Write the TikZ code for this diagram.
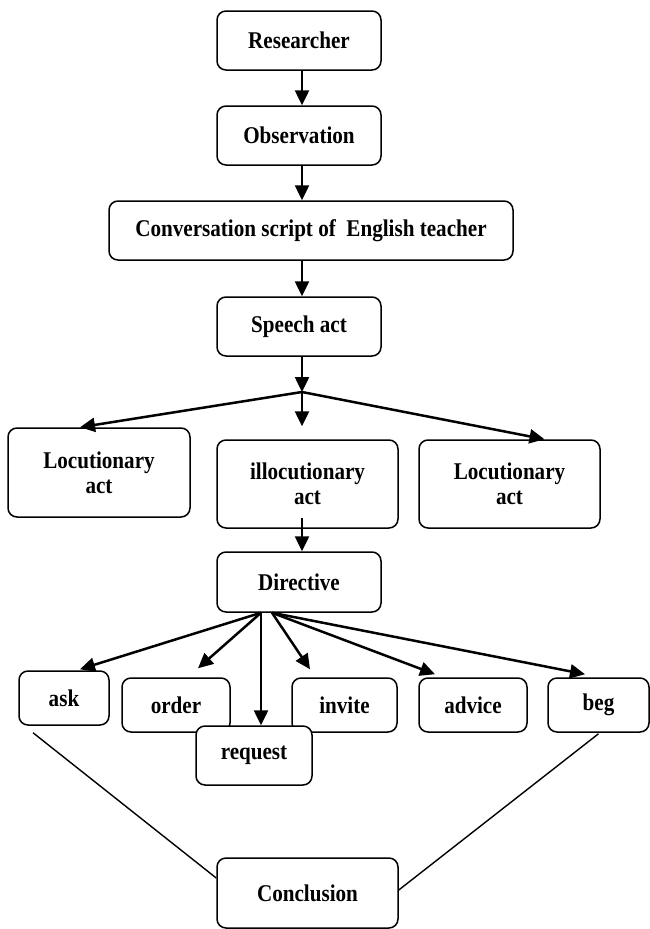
\documentclass[tikz,border=0pt]{standalone}
\usepackage{fontspec}
\setmainfont{Liberation Serif}
\newfontfamily\boxfont[FakeStretch=0.88]{Liberation Serif}
\usetikzlibrary{arrows.meta}
\tikzset{
	every picture/.style={baseline},
	box/.style={draw,line width=1.5pt,rounded corners=9pt,align=center,inner sep=0pt,
		font=\boxfont\fontsize{24}{25}\selectfont\bfseries},
	flow/.style={line width=2.5pt,-{Triangle[length=15pt,width=14pt]}},
	link/.style={line width=1.4pt},
}

\begin{document}
\begin{tikzpicture}[x=1pt,y=-1pt]
			\useasboundingbox (0,0) rectangle (650,929);
			
			%top chain.....................
			\node [box,minimum width=164pt,minimum height=59pt] (res) at (299,40.5) {Researcher};
			\node [box,minimum width=164pt,minimum height=59pt] (obs) at (299,135.5) {Observation};
			\node [box,minimum width=404pt,minimum height=59pt] (conv) at (311,230.5) {Conversation script of\ \ English teacher};
			\node [box,minimum width=164pt,minimum height=59pt] (speech) at (299,326.5) {Speech act};
			
			%acts......................
			\coordinate (split) at (302,392);
			\node [box,minimum width=182pt,minimum height=89pt] (loc) at (99,472.5) {Locutionary\\act};
			\node [box,minimum width=181pt,minimum height=88pt] (illoc) at (307.5,484) {illocutionary\\act};
			\node [box,minimum width=181pt,minimum height=88pt] (locb) at (509.5,484) {Locutionary\\act};
			\node [box,minimum width=164pt,minimum height=60pt] (dir) at (299,582) {Directive};
			
			%directive kinds...................
			\node [box,minimum width=90pt,minimum height=54pt] (ask) at (64,698) {ask};
			\node [box,minimum width=108pt,minimum height=54pt] (order) at (176,705) {order};
			\node [box,minimum width=105pt,minimum height=54pt] (invite) at (344.5,705) {invite};
			\node [box,minimum width=108pt,minimum height=54pt] (advice) at (473,705) {advice};
			\node [box,minimum width=101pt,minimum height=54pt] (beg) at (598.5,705) {beg};
			\node [box,fill=white,minimum width=116pt,minimum height=59pt] (request) at (254,755.5) {request};
			\node [box,minimum width=181pt,minimum height=70pt] (concl) at (307.5,893) {Conclusion};
			
			%arrows down the chain...................
			\draw [flow] ([xshift=3pt]res.south) -- ([xshift=3pt]obs.north);
			\draw [flow] ([xshift=3pt]obs.south) -- ([xshift=3pt]obs.south |- conv.north);
			\draw [flow] ([xshift=3pt]speech.north |- conv.south) -- ([xshift=3pt]speech.north);
			\draw [flow] ([xshift=3pt]speech.south) -- (split);
			\draw [flow] (split) -- ([xshift=-19pt]loc.north);
			\draw [flow] (split) -- ([yshift=13pt]split |- illoc.north);
			\draw [flow] (split) -- ([xshift=35pt]locb.north);
			\draw [flow] ([yshift=11pt]split |- illoc.south) -- (split |- dir.north);
			
			%arrows from directive......................
			\coordinate (dl) at ([xshift=-38pt]dir.south);
			\coordinate (dr) at ([xshift=-27pt]dir.south);
			\draw [flow] (dl) -- ([xshift=16pt,yshift=1pt]ask.north);
			\draw [flow] (dl) -- ([xshift=22pt,yshift=9pt]order.north);
			\draw [flow] (dl) -- (dl |- request.north);
			\draw [flow] (dr) -- ([xshift=-34.5pt,yshift=8pt]invite.north);
			\draw [flow] (dr) -- ([xshift=-38pt,yshift=3pt]advice.north);
			\draw [flow] (dr) -- ([xshift=-13.5pt,yshift=3pt]beg.north);
			
			%lines to conclusion...................
			\draw [link] ([xshift=-31pt,yshift=-7pt]ask.south) -- ([yshift=15pt]concl.west);
			\draw [link] ([yshift=-1pt]beg.south) -- ([yshift=3pt]concl.east);
			
		\end{tikzpicture}
\end{document}
